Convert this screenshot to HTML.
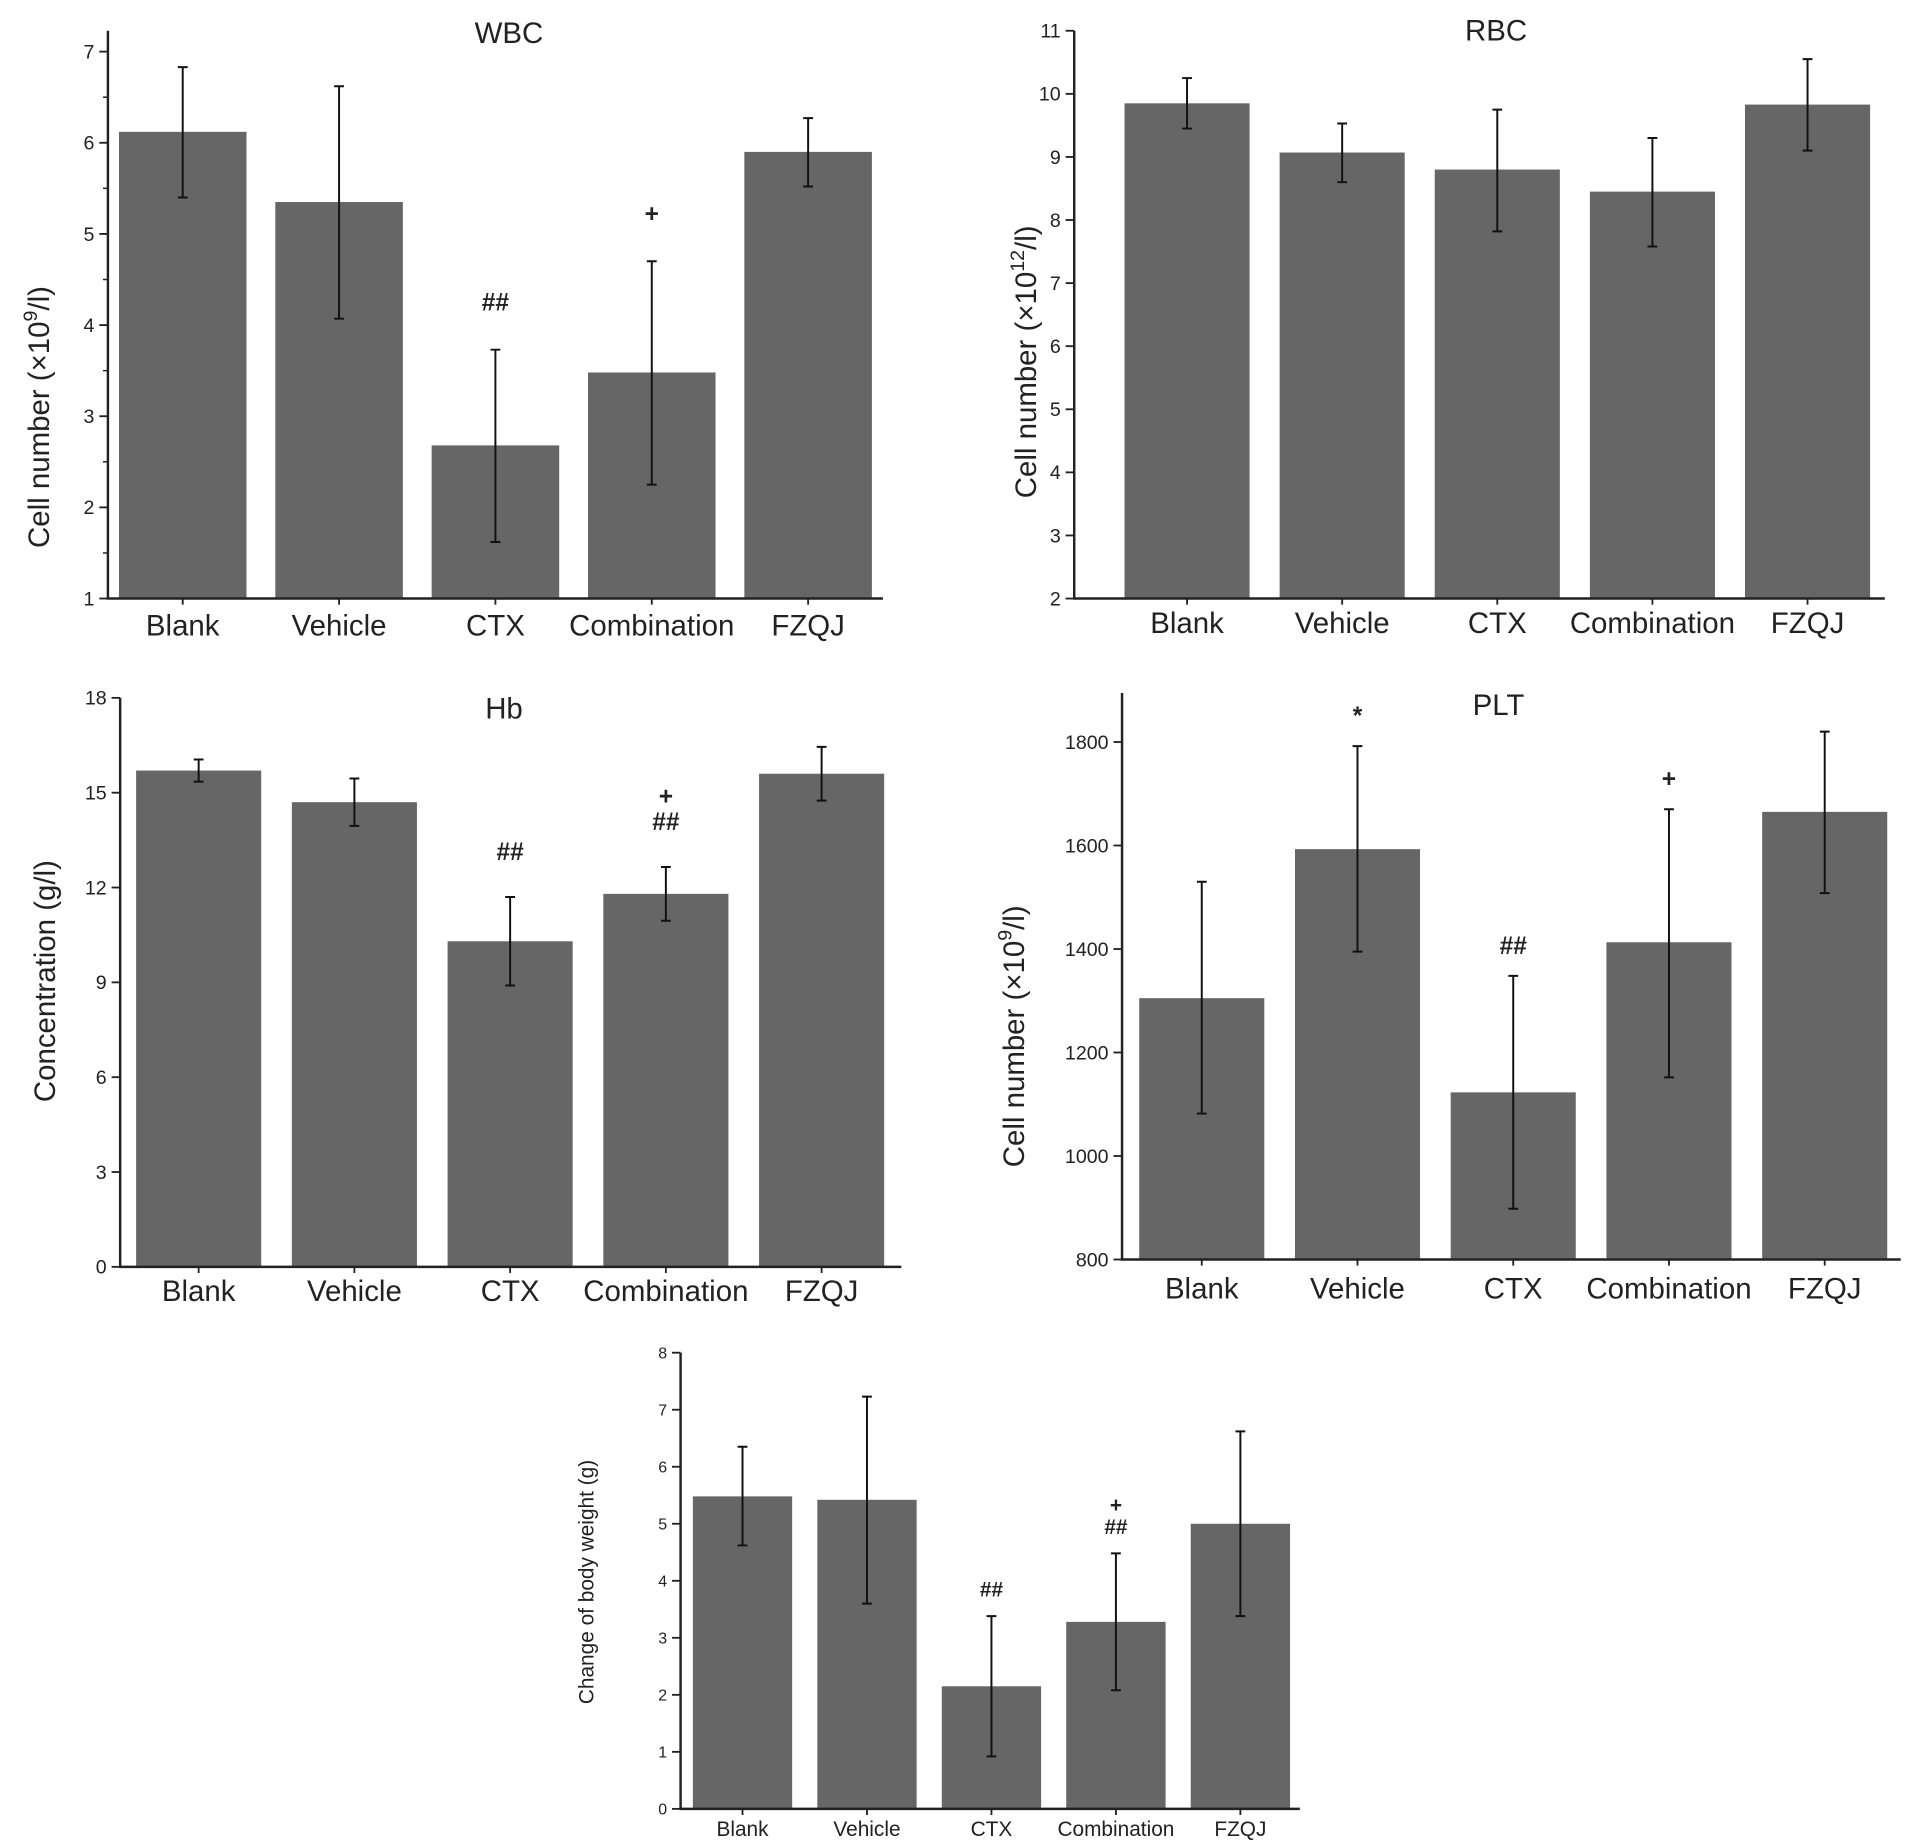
<!DOCTYPE html>
<html><head><meta charset="utf-8"><style>
html,body{margin:0;padding:0;background:#fff}
svg{display:block}
text{font-family:"Liberation Sans",Arial,sans-serif;fill:#222}
</style></head><body>
<svg id="fig" width="1913" height="1847" viewBox="0 0 1560 1506" xmlns="http://www.w3.org/2000/svg"></svg>
<script>
const categories = ["Blank","Vehicle","CTX","Combination","FZQJ"];
const wbcValues = [6.12,5.35,2.68,3.48,5.90];
const wbcHigh = [6.83,6.62,3.73,4.70,6.27];
const wbcLow = [5.40,4.07,1.62,2.25,5.52];
const wbcTicks = [1,2,3,4,5,6,7];
const wbcMarks = ["","","##","+",""];
const rbcValues = [9.85,9.07,8.80,8.45,9.83];
const rbcHigh = [10.25,9.53,9.75,9.30,10.55];
const rbcLow = [9.45,8.60,7.82,7.58,9.10];
const rbcTicks = [2,3,4,5,6,7,8,9,10,11];
const rbcMarks = ["","","","",""];
const hbValues = [15.7,14.7,10.3,11.8,15.6];
const hbHigh = [16.05,15.45,11.7,12.65,16.45];
const hbLow = [15.35,13.95,8.9,10.95,14.75];
const hbTicks = [0,3,6,9,12,15,18];
const hbMarks = ["","","##","+\n##",""];
const pltValues = [1305,1593,1123,1413,1665];
const pltHigh = [1530,1792,1348,1670,1820];
const pltLow = [1082,1395,898,1152,1508];
const pltTicks = [800,1000,1200,1400,1600,1800];
const pltMarks = ["","*","##","+",""];
const bwValues = [5.48,5.42,2.15,3.28,5.0];
const bwHigh = [6.35,7.23,3.38,4.48,6.62];
const bwLow = [4.62,3.60,0.92,2.08,3.38];
const bwTicks = [0,1,2,3,4,5,6,7,8];
const bwMarks = ["","","##","+\n##",""];

const NS="http://www.w3.org/2000/svg";
const svg=document.getElementById('fig');
function mk(tag,attrs,parent,txt){const e=document.createElementNS(NS,tag);for(const k in attrs)e.setAttribute(k,attrs[k]);if(txt!==undefined)e.textContent=txt;(parent||svg).appendChild(e);return e;}

function panel(c){
  const g=mk('g',{});
  
  
  const y=v=>c.y0px+(v-c.v0)*(c.y1px-c.y0px)/(c.v1-c.v0);
  const x=i=>c.bx+i*c.step;
  // bars
  c.values.forEach((v,i)=>{
    const r=mk('rect',{x:x(i),y:y(v),width:c.bw,height:y(c.v0)-y(v),fill:'#666'},g);
    
    
    const cx=x(i)+c.bw/2, cap=4;
    const eb=mk('path',{d:`M${cx},${y(c.hi[i])}V${y(c.lo[i])}M${cx-cap},${y(c.hi[i])}H${cx+cap}M${cx-cap},${y(c.lo[i])}H${cx+cap}`,stroke:'#111','stroke-width':1.6,fill:'none'},g);
    
    
    // x tick
    mk('line',{x1:cx,x2:cx,y1:y(c.v0),y2:y(c.v0)+5,stroke:'#222','stroke-width':1.5},g);
    const lbl=mk('text',{x:cx,y:y(c.v0)+c.catDy,'font-size':c.catFs,'text-anchor':'middle'},g,categories[i]);
    
    
    if(c.marks[i]){
      const parts=c.marks[i].split('\n');
      const base=y(c.hi[i])-c.markGap;
      parts.slice().reverse().forEach((p,k)=>{
        const t=mk('text',{x:cx,y:base-k*c.markFs*1.05,'font-size':c.markFs,'text-anchor':'middle','font-weight':'bold'},g,p);
        
        
      });
    }
  });
  // axes
  const ya=mk('line',{x1:c.ax,x2:c.ax,y1:c.axTop,y2:y(c.v0),stroke:'#222','stroke-width':2},g);
  
  
  const xa=mk('line',{x1:c.ax-1,x2:c.axEnd,y1:y(c.v0),y2:y(c.v0),stroke:'#222','stroke-width':2},g);
  
  
  c.ticks.forEach((t,k)=>{
    mk('line',{x1:c.ax-7,x2:c.ax,y1:y(t),y2:y(t),stroke:'#222','stroke-width':1.5},g);
    if(c.minor && k<c.ticks.length-1){const m=(t+c.ticks[k+1])/2;mk('line',{x1:c.ax-4,x2:c.ax,y1:y(m),y2:y(m),stroke:'#222','stroke-width':1.2},g);}
    const tl=mk('text',{x:c.ax-11,y:y(t)+c.tickFs*0.35,'font-size':c.tickFs,'text-anchor':'end'},g,String(t));
    
    
  });
  const tt=mk('text',{x:c.titleX,y:c.titleY,'font-size':24,'text-anchor':'middle'},g,c.title||'');
  
  
  const yl=mk('text',{transform:`translate(${c.ylx},${c.yly}) rotate(-90)`,'font-size':c.ylFs,'text-anchor':'middle'},g);
  
  
  yl.innerHTML=c.ylabel;
}

panel({name:'wbc',values:wbcValues,hi:wbcHigh,lo:wbcLow,ticks:wbcTicks,marks:wbcMarks,minor:true,
  v0:1,v1:7,y0px:488,y1px:42,ax:88,axTop:25,axEnd:720,bx:97,bw:104,step:127.5,
  catDy:30,catFs:24,tickFs:16,markFs:20,markGap:32,title:'WBC',titleX:415,titleY:35,
  ylx:40,yly:340,ylFs:24,ylabel:'Cell number (×10<tspan dy="-10" font-size="16">9</tspan><tspan dy="10">/l)</tspan>'});
panel({name:'rbc',values:rbcValues,hi:rbcHigh,lo:rbcLow,ticks:rbcTicks,marks:rbcMarks,minor:false,
  v0:2,v1:11,y0px:488,y1px:25,ax:876,axTop:25,axEnd:1537,bx:917,bw:102,step:126.5,
  catDy:28,catFs:24,tickFs:16,markFs:20,markGap:30,title:'RBC',titleX:1220,titleY:33,
  ylx:845,yly:295,ylFs:24,ylabel:'Cell number (×10<tspan dy="-10" font-size="16">12</tspan><tspan dy="10">/l)</tspan>'});
panel({name:'hb',values:hbValues,hi:hbHigh,lo:hbLow,ticks:hbTicks,marks:hbMarks,minor:false,
  v0:0,v1:18,y0px:1033,y1px:569,ax:98,axTop:569,axEnd:735,bx:111,bw:102,step:127,
  catDy:28,catFs:24,tickFs:16,markFs:20,markGap:30,title:'Hb',titleX:411,titleY:586,
  ylx:45,yly:800,ylFs:24,ylabel:'Concentration (g/l)'});
panel({name:'plt',values:pltValues,hi:pltHigh,lo:pltLow,ticks:pltTicks,marks:pltMarks,minor:false,
  v0:800,v1:1800,y0px:1027,y1px:605,ax:915,axTop:565,axEnd:1550,bx:929,bw:102,step:127,
  catDy:32,catFs:24,tickFs:16,markFs:20,markGap:18,title:'PLT',titleX:1222,titleY:583,
  ylx:835,yly:845,ylFs:24,ylabel:'Cell number (×10<tspan dy="-10" font-size="16">9</tspan><tspan dy="10">/l)</tspan>'});
panel({name:'body-weight',values:bwValues,hi:bwHigh,lo:bwLow,ticks:bwTicks,marks:bwMarks,minor:false,
  v0:0,v1:8,y0px:1475,y1px:1103,ax:555,axTop:1103,axEnd:1060,bx:565,bw:81,step:101.5,
  catDy:22,catFs:17,tickFs:13,markFs:17,markGap:16,title:'',titleX:0,titleY:0,
  ylx:484,yly:1290,ylFs:17,ylabel:'Change of body weight (g)'});
</script>
</body></html>
